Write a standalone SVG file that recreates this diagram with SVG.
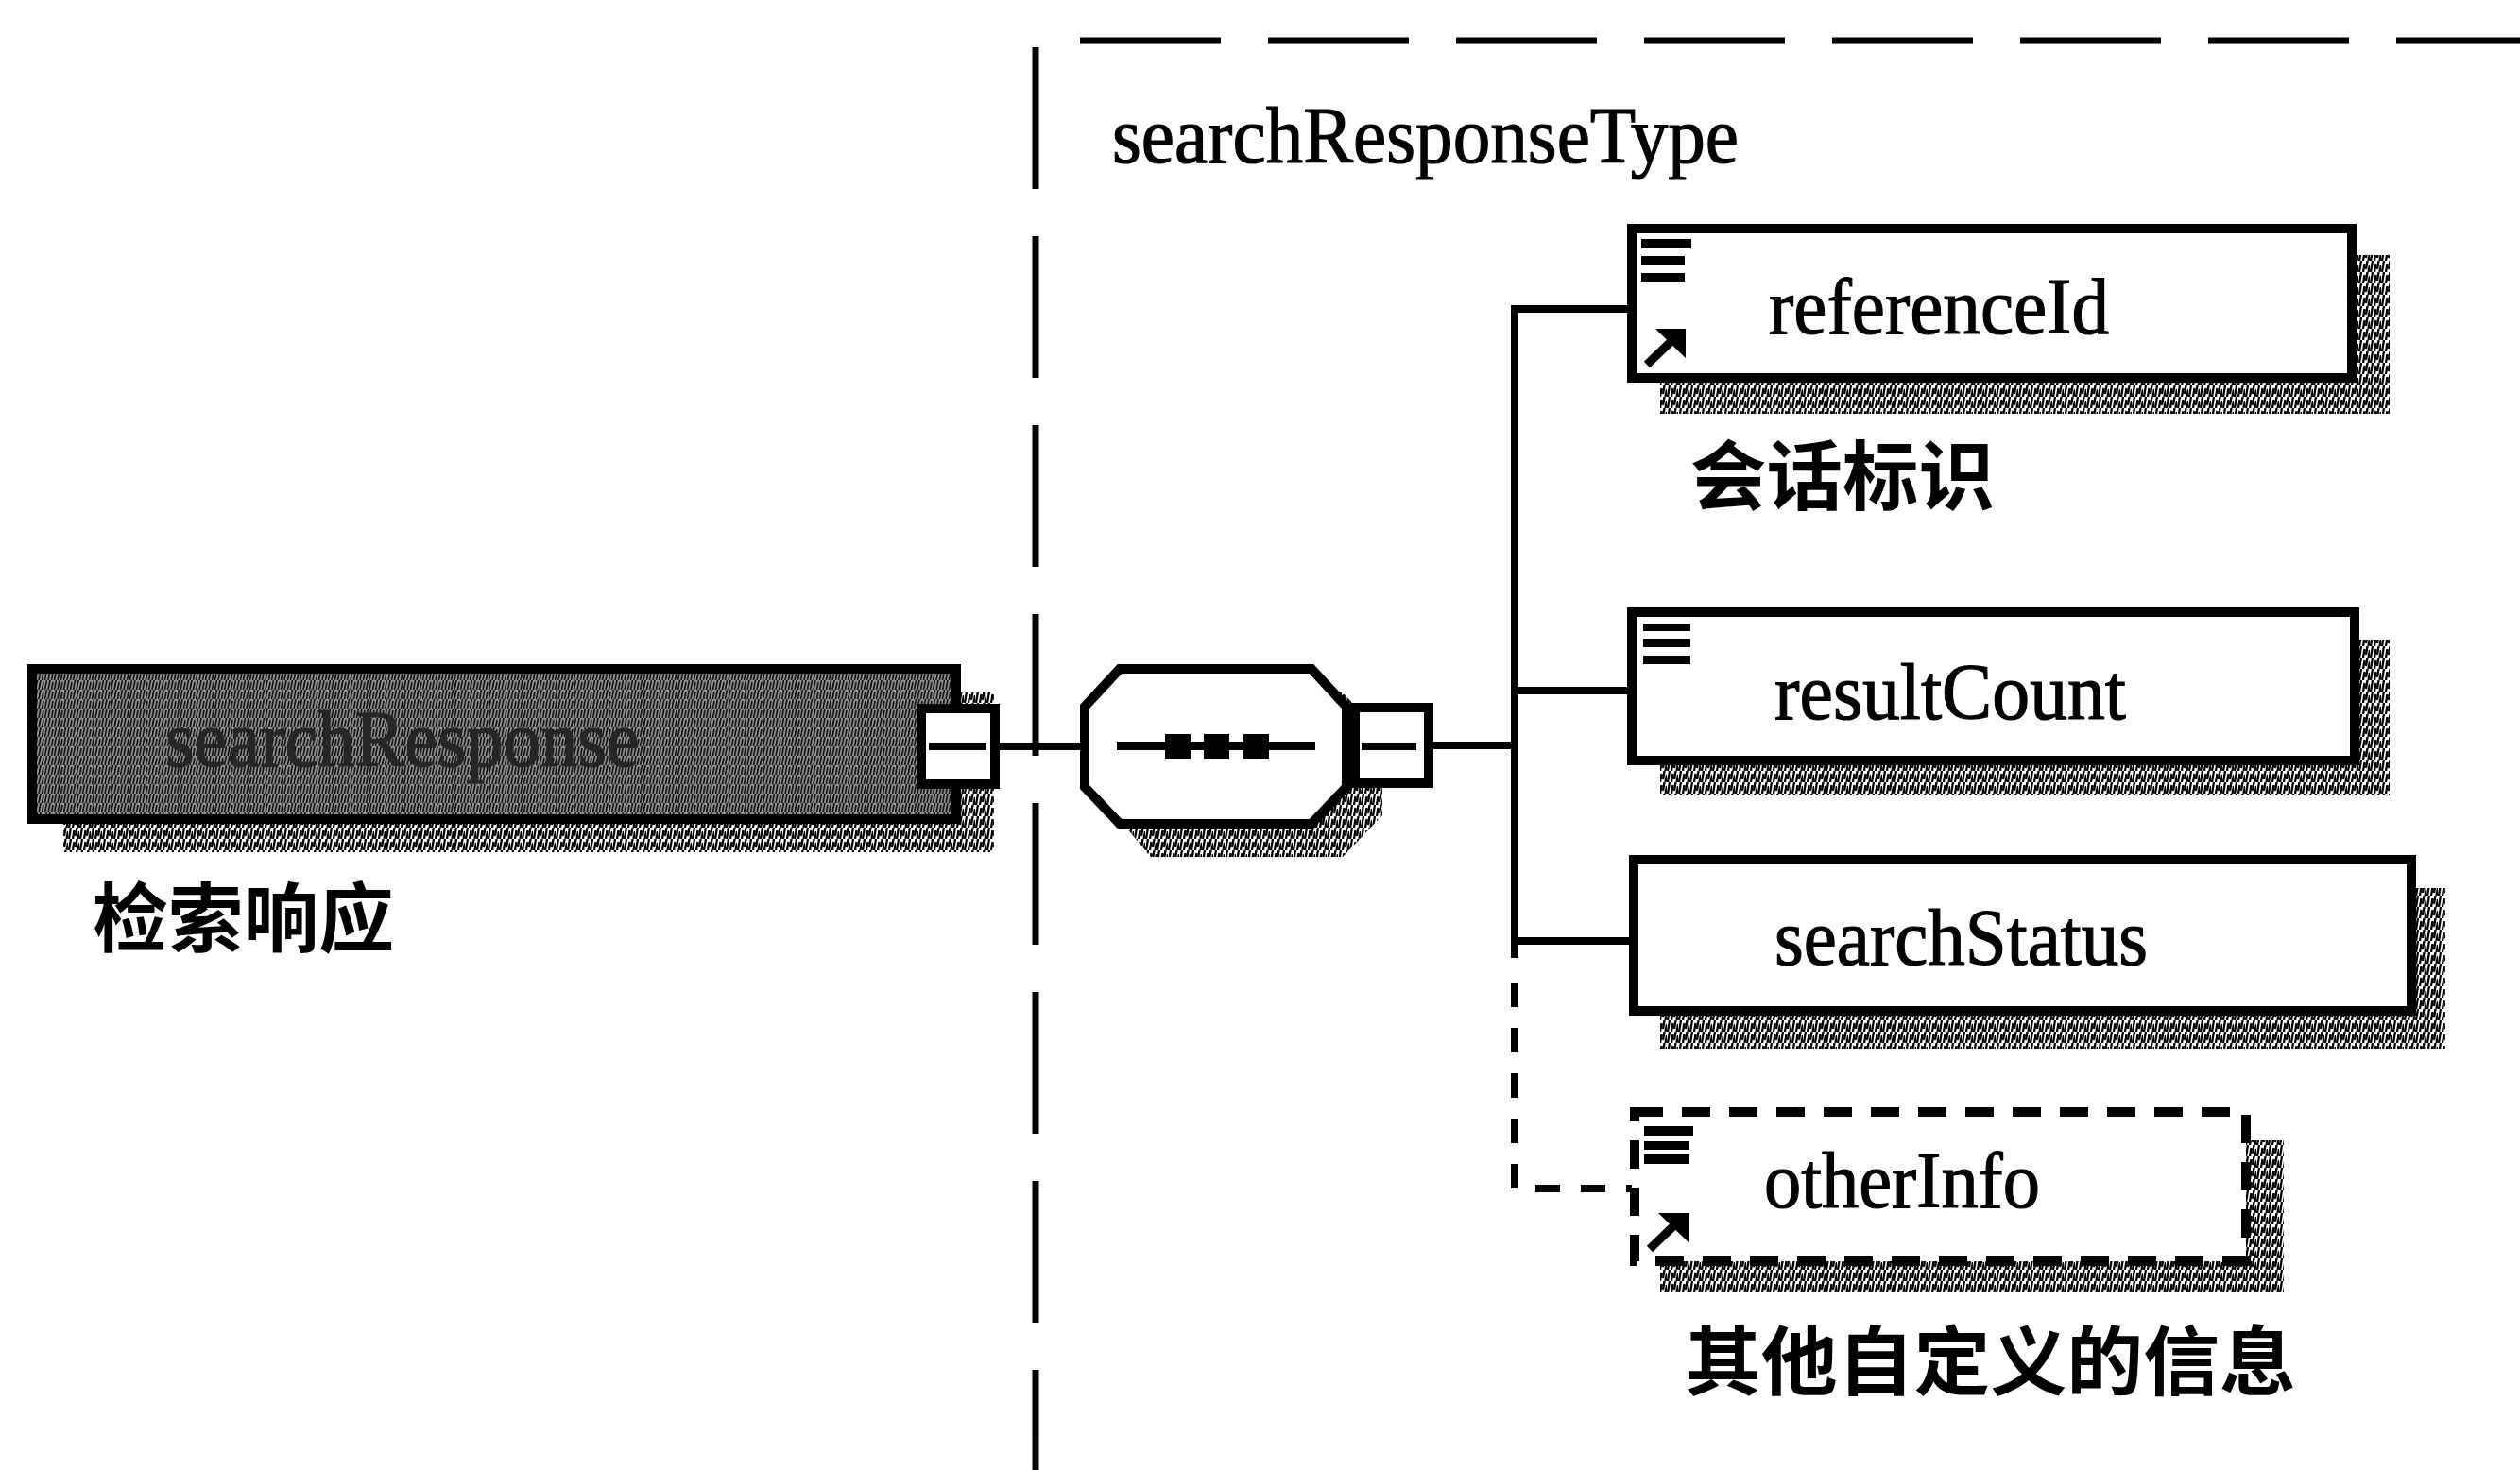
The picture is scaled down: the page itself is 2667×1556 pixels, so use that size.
<svg xmlns="http://www.w3.org/2000/svg" width="2667" height="1556" viewBox="0 0 2667 1556">
  <defs>
    <!-- coarse hatching used for drop shadows -->
    <pattern id="hatch" patternUnits="userSpaceOnUse" width="12" height="12">
      <path d="M1 12 L3 0 M5 12 L6.5 3 M8 9 L9.5 0 M10.5 12 L12 4" stroke="#000" stroke-width="2.3" fill="none"/>
    </pattern>
    <!-- denser hatching used for the global element fill -->
    <pattern id="hatchDark" patternUnits="userSpaceOnUse" width="10" height="10">
      <rect width="10" height="10" fill="#8e8e8e"/>
      <path d="M1 10 L3 0 M4.5 10 L6 2 M7.5 10 L9.5 0" stroke="#111" stroke-width="1.6" fill="none"/>
    </pattern>
    <style>
      .box { fill: #fff; stroke: #000; stroke-width: 10; }
      .dashbox { fill: #fff; stroke: #000; stroke-width: 10; stroke-dasharray: 30 20; }
      .shadow { fill: url(#hatch); stroke: none; }
      .wire { stroke: #000; stroke-width: 8; fill: none; }
      .wire-opt { stroke: #000; stroke-width: 8; fill: none; stroke-dasharray: 26 22; }
      .frame { stroke: #000; fill: none; }
      .lbl { font-family: "Liberation Serif", "Times New Roman", serif; font-size: 84px; fill: #000; stroke: #000; stroke-width: 1.2; }
      .cjk { font-family: "Noto Sans CJK SC", "Liberation Sans", sans-serif; font-size: 80px; fill: #000; font-weight: 700; }
      .ico { fill: #000; }
    </style>
  </defs>

  <rect width="2667" height="1556" fill="#fff"/>

  <!-- complex type frame -->
  <g id="typeFrame">
    <line class="frame" x1="1143" y1="43" x2="2667" y2="43" stroke-width="7" stroke-dasharray="149 50"/>
    <line class="frame" x1="1096" y1="50" x2="1096" y2="1556" stroke-width="7" stroke-dasharray="150 50"/>
    <text class="lbl" x="1177" y="172" textLength="663" lengthAdjust="spacingAndGlyphs">searchResponseType</text>
  </g>

  <!-- connectors -->
  <g id="connectors">
    <line class="wire" x1="1058" y1="790" x2="1148" y2="790"/>
    <line class="wire" x1="1517" y1="789" x2="1603" y2="789"/>
    <line class="wire" x1="1603" y1="323" x2="1603" y2="1014"/>
    <line class="wire" x1="1599" y1="327" x2="1727" y2="327"/>
    <line class="wire" x1="1603" y1="731" x2="1727" y2="731"/>
    <line class="wire" x1="1603" y1="996" x2="1729" y2="996"/>
    <path class="wire-opt" d="M1603 1040 V1258 H1727"/>
  </g>

  <!-- global element searchResponse -->
  <g id="searchResponse">
    <rect class="shadow" x="67" y="733" width="985" height="169"/>
    <rect x="34" y="708" width="978" height="159" fill="url(#hatchDark)" stroke="#000" stroke-width="10"/>
    <text class="lbl" x="175" y="811" textLength="502" lengthAdjust="spacingAndGlyphs" style="fill:#262626;stroke:#262626">searchResponse</text>
    <rect class="box" x="975" y="750" width="78" height="80"/>
    <rect class="ico" x="983" y="786" width="61" height="8"/>
  </g>
  <text class="cjk" x="98" y="1001" textLength="319" lengthAdjust="spacingAndGlyphs">检索响应</text>

  <!-- sequence compositor -->
  <g id="sequence">
    <path class="shadow" d="M1181 733 H1421 L1463 778 V863 L1421 907 H1218 L1181 863 Z"/>
    <path class="box" d="M1185 708 H1388 L1425 748 V833 L1388 872 H1185 L1148 833 V748 Z"/>
    <rect class="ico" x="1182" y="785" width="210" height="9"/>
    <rect class="ico" x="1233" y="777" width="27" height="26"/>
    <rect class="ico" x="1274" y="777" width="27" height="26"/>
    <rect class="ico" x="1316" y="777" width="27" height="26"/>
    <rect class="box" x="1434" y="749" width="78" height="80"/>
    <rect class="ico" x="1441" y="786" width="58" height="8"/>
  </g>

  <!-- child element referenceId -->
  <g id="referenceId">
    <rect class="shadow" x="1757" y="270" width="772" height="168"/>
    <rect class="box" x="1727" y="242" width="762" height="158"/>
    <rect class="ico" x="1737" y="253" width="53" height="10"/>
    <rect class="ico" x="1737" y="271" width="46" height="9"/>
    <rect class="ico" x="1737" y="289" width="46" height="9"/>
    <line x1="1743" y1="386" x2="1770" y2="360" stroke="#000" stroke-width="9"/>
    <polygon class="ico" points="1752,348 1784,348 1784,379"/>
    <text class="lbl" x="1872" y="353" textLength="360" lengthAdjust="spacingAndGlyphs">referenceId</text>
  </g>
  <text class="cjk" x="1789" y="533" textLength="322" lengthAdjust="spacingAndGlyphs">会话标识</text>

  <!-- child element resultCount -->
  <g id="resultCount">
    <rect class="shadow" x="1757" y="677" width="772" height="165"/>
    <rect class="box" x="1727" y="648" width="765" height="157"/>
    <rect class="ico" x="1739" y="660" width="50" height="8"/>
    <rect class="ico" x="1739" y="676" width="50" height="9"/>
    <rect class="ico" x="1739" y="694" width="50" height="9"/>
    <text class="lbl" x="1878" y="761" textLength="372" lengthAdjust="spacingAndGlyphs">resultCount</text>
  </g>

  <!-- child element searchStatus -->
  <g id="searchStatus">
    <rect class="shadow" x="1757" y="940" width="831" height="170"/>
    <rect class="box" x="1729" y="910" width="823" height="160"/>
    <text class="lbl" x="1878" y="1021" textLength="395" lengthAdjust="spacingAndGlyphs">searchStatus</text>
  </g>

  <!-- optional child element otherInfo -->
  <g id="otherInfo">
    <rect class="shadow" x="1757" y="1207" width="660" height="161"/>
    <rect class="dashbox" x="1730" y="1177" width="647" height="158"/>
    <rect class="ico" x="1740" y="1192" width="52" height="10"/>
    <rect class="ico" x="1740" y="1208" width="48" height="9"/>
    <rect class="ico" x="1740" y="1222" width="48" height="10"/>
    <line x1="1746" y1="1322" x2="1773" y2="1296" stroke="#000" stroke-width="9"/>
    <polygon class="ico" points="1755,1284 1788,1284 1788,1316"/>
    <text class="lbl" x="1867" y="1278" textLength="292" lengthAdjust="spacingAndGlyphs">otherInfo</text>
  </g>
  <text class="cjk" x="1783" y="1470" textLength="647" lengthAdjust="spacingAndGlyphs">其他自定义的信息</text>
</svg>
